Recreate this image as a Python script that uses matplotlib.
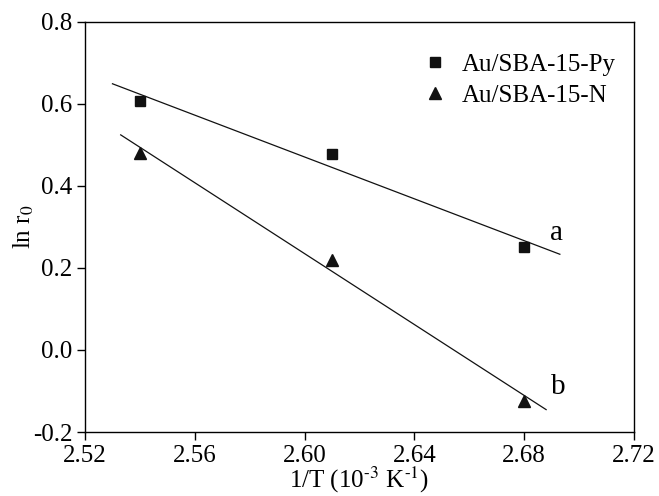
import matplotlib
matplotlib.use("Agg")
import matplotlib.pyplot as plt
import numpy as np

plt.rcParams["font.family"] = ["Liberation Serif", "DejaVu Serif"]
plt.rcParams["mathtext.fontset"] = "stix"

# data
inv_t = [2.54, 2.61, 2.68]
ln_r0_py = [0.607, 0.478, 0.250]
ln_r0_n = [0.480, 0.220, -0.125]
fit_range_py = [2.530, 2.693]
fit_range_n = [2.533, 2.688]
x_ticks = [2.52, 2.56, 2.60, 2.64, 2.68, 2.72]
y_ticks = [-0.2, 0.0, 0.2, 0.4, 0.6, 0.8]

fig = plt.figure(figsize=(6.59, 4.96), dpi=100)
ax = fig.add_axes([0.129, 0.129, 0.833, 0.827])

ax.plot(inv_t, ln_r0_py, "s", color="#111111", markersize=6.5, label="Au/SBA-15-Py")
ax.plot(inv_t, ln_r0_n, "^", color="#111111", markersize=8, label="Au/SBA-15-N")

# linear fits
for y, xr in [(ln_r0_py, fit_range_py), (ln_r0_n, fit_range_n)]:
    k, b = np.polyfit(inv_t, y, 1)
    xs = np.array(xr)
    ax.plot(xs, k * xs + b, color="#111111", linewidth=0.9)

ax.text(2.6916, 0.285, "a", fontsize=21, ha="center", va="center")
ax.text(2.6923, -0.09, "b", fontsize=21, ha="center", va="center")

ax.set_xlim(2.52, 2.72)
ax.set_ylim(-0.2, 0.8)
ax.set_xticks(x_ticks)
ax.set_xticklabels([f"{v:.2f}" for v in x_ticks])
ax.set_yticks(y_ticks)
ax.set_yticklabels([f"{v:.1f}" for v in y_ticks])
ax.tick_params(direction="out", length=6, width=1, labelsize=18, top=False, right=False, pad=3)
for s in ax.spines.values():
    s.set_linewidth(1.0)

ax.set_xlabel("1/T (10$^{\\text{-3}}$ K$^{\\text{-1}}$)", fontsize=18, labelpad=-1)
ax.set_ylabel("ln r$_0$", fontsize=18, labelpad=-2)

ax.legend(loc="upper right", bbox_to_anchor=(0.995, 0.96), frameon=False,
          fontsize=18, handletextpad=0.6, labelspacing=0.35, borderaxespad=0.2,
          handlelength=1.0)

fig.savefig("out.png", dpi=100)
